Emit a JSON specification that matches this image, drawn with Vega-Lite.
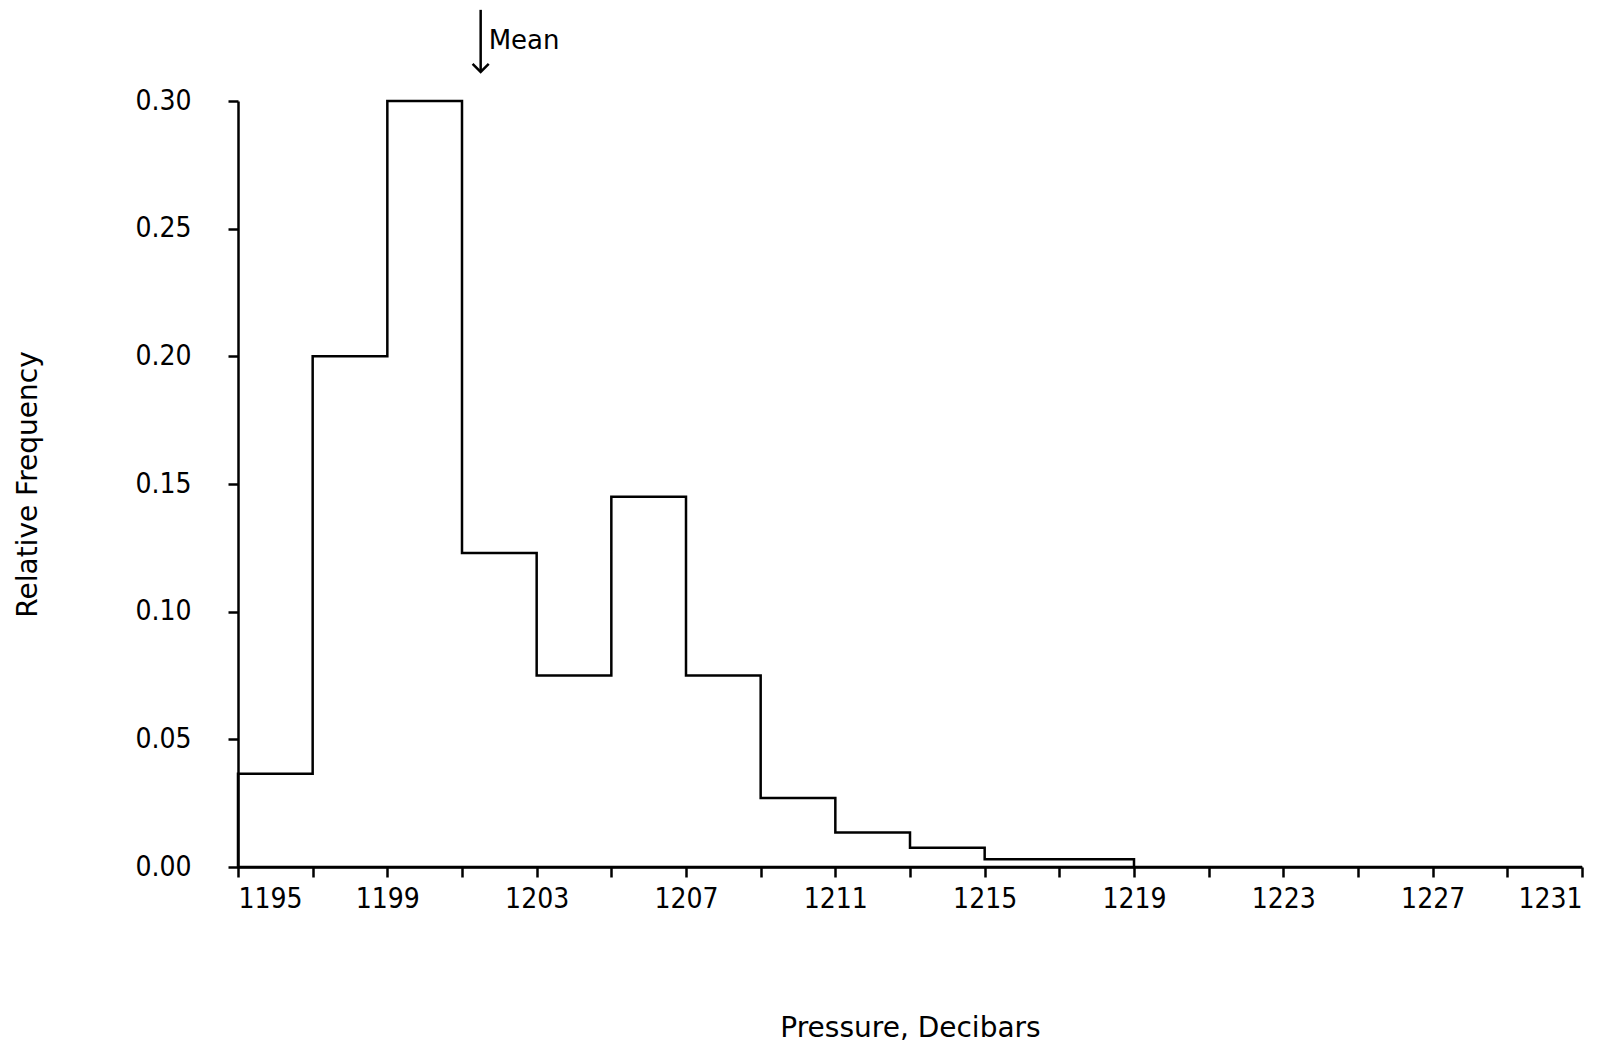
{
  "$schema": "https://vega.github.io/schema/vega-lite/v6.json",
  "width": 1344,
  "height": 766,
  "autosize": "none",
  "padding": {"left": 238, "top": 101, "right": 41, "bottom": 182},
  "background": "white",
  "config": {
    "view": {"stroke": null},
    "font": "DejaVu Sans",
    "axis": {
      "grid": false,
      "domainColor": "black",
      "domainWidth": 2.5,
      "tickColor": "black",
      "tickWidth": 2.5,
      "tickSize": 10,
      "labelColor": "black",
      "labelFont": "DejaVu Sans Condensed",
      "labelFontSize": 28,
      "titleColor": "black",
      "titleFont": "DejaVu Sans",
      "titleFontSize": 28,
      "titleFontWeight": "normal"
    }
  },
  "datasets": {
    "hist": [
      {"start": 1195, "freq": 0.0365},
      {"start": 1197, "freq": 0.200},
      {"start": 1199, "freq": 0.300},
      {"start": 1201, "freq": 0.123},
      {"start": 1203, "freq": 0.075},
      {"start": 1205, "freq": 0.145},
      {"start": 1207, "freq": 0.075},
      {"start": 1209, "freq": 0.027},
      {"start": 1211, "freq": 0.0135},
      {"start": 1213, "freq": 0.0075},
      {"start": 1215, "freq": 0.003},
      {"start": 1217, "freq": 0.003},
      {"start": 1219, "freq": 0},
      {"start": 1221, "freq": 0},
      {"start": 1223, "freq": 0},
      {"start": 1225, "freq": 0},
      {"start": 1227, "freq": 0},
      {"start": 1229, "freq": 0},
      {"start": 1231, "freq": 0}
    ],
    "mean": [
      {"pressure": 1201.5, "top": 0.3357, "bottom": 0.3114, "textY": 0.3235, "label": "Mean"}
    ]
  },
  "layer": [
    {
      "data": {"name": "hist"},
      "mark": {
        "type": "area",
        "interpolate": "step-after",
        "fill": "none",
        "stroke": "black",
        "strokeWidth": 2.5,
        "line": false
      },
      "encoding": {
        "x": {
          "field": "start",
          "type": "quantitative",
          "scale": {"domain": [1195, 1231], "nice": false, "zero": false},
          "axis": {
            "values": [1195, 1197, 1199, 1201, 1203, 1205, 1207, 1209, 1211, 1213, 1215, 1217, 1219, 1221, 1223, 1225, 1227, 1229, 1231],
            "format": "d",
            "labelExpr": "(datum.value - 1195) % 4 == 0 ? datum.label : ''",
            "labelPadding": 8,
            "title": "Pressure, Decibars",
            "titleY": 161,
            "titleBaseline": "middle"
          }
        },
        "y": {
          "field": "freq",
          "type": "quantitative",
          "scale": {"domain": [0, 0.3], "nice": false},
          "axis": {
            "values": [0, 0.05, 0.1, 0.15, 0.2, 0.25, 0.3],
            "format": ".2f",
            "labelPadding": 37,
            "title": "Relative Frequency",
            "titleX": -210,
            "titleY": 383,
            "titleAlign": "center",
            "titleBaseline": "middle",
            "titleAngle": -90
          }
        }
      }
    },
    {
      "data": {"name": "mean"},
      "mark": {"type": "rule", "color": "black", "strokeWidth": 2.5, "clip": false},
      "encoding": {
        "x": {"field": "pressure", "type": "quantitative"},
        "y": {"field": "top", "type": "quantitative"},
        "y2": {"field": "bottom"}
      }
    },
    {
      "data": {"name": "mean"},
      "mark": {
        "type": "point",
        "shape": "M-1,-1L0,0L1,-1",
        "filled": false,
        "stroke": "black",
        "strokeWidth": 2.5,
        "size": 260,
        "opacity": 1,
        "clip": false
      },
      "encoding": {
        "x": {"field": "pressure", "type": "quantitative"},
        "y": {"field": "bottom", "type": "quantitative"}
      }
    },
    {
      "data": {"name": "mean"},
      "mark": {
        "type": "text",
        "align": "left",
        "baseline": "middle",
        "dx": 8,
        "font": "DejaVu Sans",
        "fontSize": 26,
        "color": "black",
        "clip": false
      },
      "encoding": {
        "x": {"field": "pressure", "type": "quantitative"},
        "y": {"field": "textY", "type": "quantitative"},
        "text": {"field": "label"}
      }
    }
  ]
}
